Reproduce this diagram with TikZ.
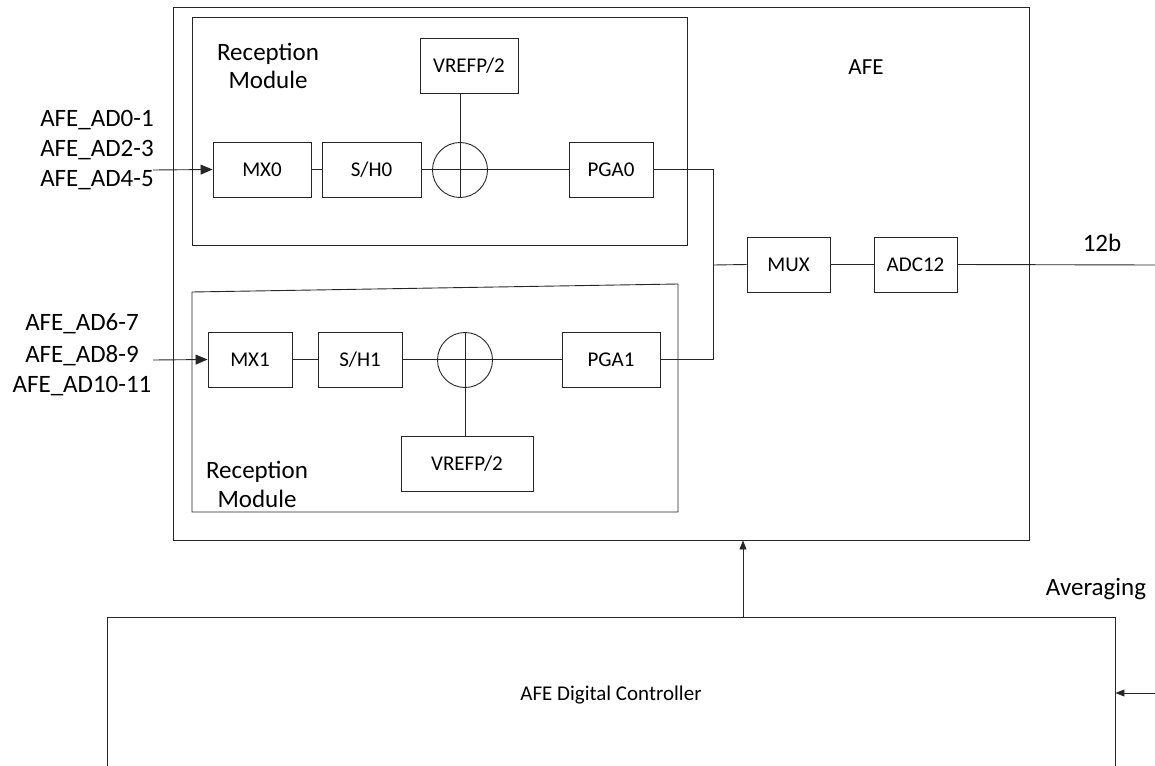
\documentclass[tikz,border=0pt]{standalone}
\usepackage{fontspec}
\setmainfont{Carlito}
\usetikzlibrary{arrows.meta}
\begin{document}
\begin{tikzpicture}[x=1pt,y=-1pt,
  ln/.style={draw=black!85,line width=0.9pt},
  blk/.style={ln,rectangle,minimum height=55pt,inner sep=0pt,font=\fontsize{21}{25}\selectfont},
  big/.style={font=\fontsize{25}{30}\selectfont,align=center,inner sep=0pt},
  arr/.style={ln,-{Triangle[length=12pt,width=10pt]}},
  sarr/.style={ln,-{Triangle[length=9pt,width=7pt]}}]
\clip (0,0) rectangle (1155,765);
\useasboundingbox (0,0) rectangle (1155,765);
% AFE outer box
\node[ln,rectangle,minimum width=856pt,minimum height=533pt,inner sep=0pt] (afe) at (601,273.5) {};
\node[font=\fontsize{23}{28}\selectfont] (afelbl) at (866,67) {AFE};
% top reception module
\draw[ln] (192,17) rectangle (687,245);
\node[big,text width=130pt] (rm0) at (268,66) {Reception\\[-2pt]Module};
% bottom reception module (slightly slanted top)
\draw[ln] (192,292) -- (678,284) -- (678,512) -- (192,512) -- cycle;
\node[big,text width=130pt] (rm1) at (257,484) {Reception\\[-1pt]Module};
% top chain
\node[blk,minimum width=98pt] (mx0) at (262,169.5) {MX0};
\node[blk,minimum width=99pt] (sh0) at (371.5,169.5) {S/H0};
\node[ln,circle,minimum size=55pt,inner sep=0pt] (c0) at (460,170) {};
\node[blk,minimum width=98pt] (vr0) at (469,65.5) {VREFP/2};
\node[blk,minimum width=84pt] (pga0) at (611,169.5) {PGA0};
\draw[ln] (sh0.east) -- (pga0.west);
\draw[ln] (vr0.south -| c0.south) -- (c0.south);
\draw[ln] (mx0.east) -- (sh0.west);
% bottom chain
\node[blk,minimum width=84pt] (mx1) at (250,359.5) {MX1};
\node[blk,minimum width=84pt] (sh1) at (360,359.5) {S/H1};
\node[ln,circle,minimum size=55pt,inner sep=0pt] (c1) at (465,360) {};
\node[blk,minimum width=98pt] (pga1) at (611,359.5) {PGA1};
\node[blk,minimum width=132pt] (vr1) at (467,463.5) {VREFP/2};
\draw[ln] (mx1.east) -- (sh1.west);
\draw[ln] (sh1.east) -- (pga1.west);
\draw[ln] (c1.north) -- (c1.north |- vr1.north);
% mux / adc
\node[blk,minimum width=83pt] (mux) at (788.5,264.5) {MUX};
\node[blk,minimum width=83pt] (adc) at (915.5,264.5) {ADC12};
\coordinate (j) at (713,265);
\draw[ln] (pga0.east) -| (j) |- (pga1.east);
\draw[ln] (j) -- (mux.west);
\draw[ln] (mux.east) -- (adc.west);
\coordinate (out) at (1155,265);
\draw[ln] (adc.east) -- (out);
\node[big] (b12) at (1102,243) {12b};
% inputs
\node[big,align=center] (in0lbl) at (97,150) {AFE\_AD0-1\\AFE\_AD2-3\\AFE\_AD4-5};
\coordinate (in0) at (153,170);
\draw[arr] (in0) -- (mx0.west);
\node[big,align=center] (in1lbl) at (82,355) {AFE\_AD6-7\\[2pt]AFE\_AD8-9\\AFE\_AD10-11};
\coordinate (in1) at (153,360);
\draw[arr] (in1) -- (mx1.west);
% digital controller
\node[ln,rectangle,minimum width=1008pt,minimum height=156pt,inner sep=0pt,font=\fontsize{21}{25}\selectfont] (ctrl) at (611,695) {AFE Digital Controller};
\coordinate (ca) at (743,617);
\draw[sarr] (ca) -- (ca |- afe.south);
\node[big] (avg) at (1096,589) {Averaging};
\coordinate (avgin) at (1155,693);
\draw[sarr] (avgin) -- (avgin -| ctrl.east);
\end{tikzpicture}
\end{document}
